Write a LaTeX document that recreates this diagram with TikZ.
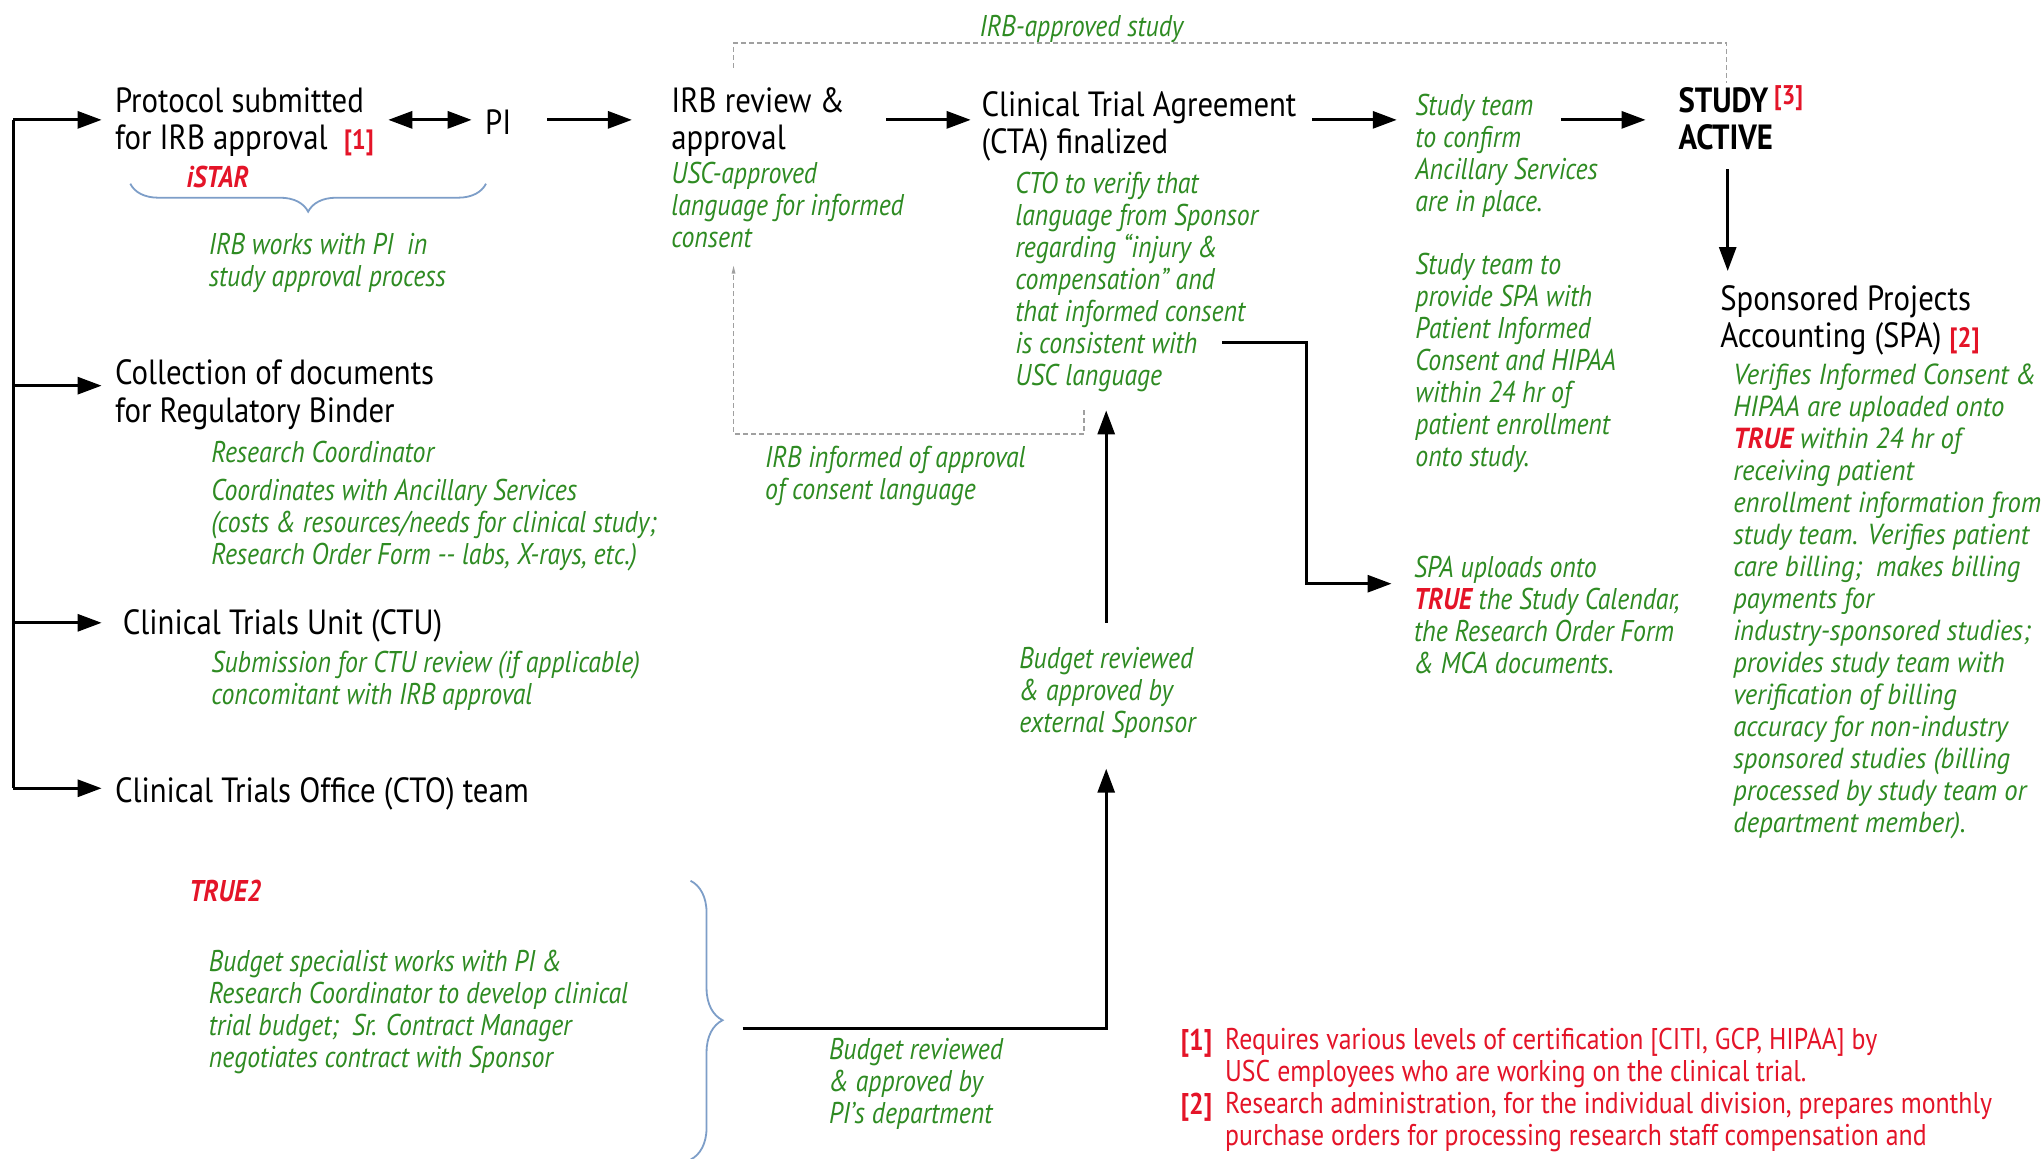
\documentclass[tikz,border=0pt]{standalone}
\usepackage{fontspec}
\setmainfont{PT Sans}
\newfontfamily\cf{PT Sans}[FakeStretch=0.88]
\newfontfamily\cg{PT Sans}[FakeStretch=0.86]
\newfontfamily\cfw{PT Sans}[FakeStretch=0.92]
\usetikzlibrary{arrows.meta,decorations.pathreplacing,calc}
\definecolor{tgreen}{RGB}{46,139,34}
\definecolor{tred}{RGB}{228,20,40}
\definecolor{tblue}{RGB}{125,158,200}
\definecolor{tgray}{RGB}{160,160,160}
\newcommand\blkf{\cf\fontsize{17.5}{18.9}\selectfont}
\newcommand\grnf{\cg\itshape\fontsize{15}{16}\selectfont}
\newcommand\spaf{\cfw\itshape\fontsize{14.5}{16}\selectfont}
\newcommand\notef{\cg\fontsize{15}{16}\selectfont}
\newcommand\rb[1]{\textcolor{tred}{\bfseries #1}}
\tikzset{
  blk/.style={font=\blkf, align=left, inner sep=0pt, anchor=base west, yshift=-2pt},
  grn/.style={font=\grnf, text=tgreen, align=left, inner sep=0pt, anchor=base west, yshift=-2pt},
  spag/.style={font=\spaf, text=tgreen, align=left, inner sep=0pt, anchor=base west, yshift=-2pt},
  note/.style={font=\notef, text=tred, align=left, inner sep=0pt, anchor=base west, yshift=-1.5pt},
  arr/.style={line width=1.5pt, -{Triangle[length=12pt,width=8.5pt]}},
  plain/.style={line width=1.5pt},
  dsh/.style={tgray, line width=0.7pt, dash pattern=on 2.5pt off 1.5pt},
  bracestyle/.style={tblue, line width=0.9pt, decorate},
}
\begin{document}
\begin{tikzpicture}[x=0.6515pt,y=-0.6515pt]
\clip (0,0) rectangle (1568,889);
\fill[white] (0,0) rectangle (1568,889);

% black headings (anchor = baseline of last line)
\node[blk] (proto) at (88,112) {Protocol submitted\\for IRB approval\ \ \rb{\fontsize{14}{16}\selectfont[1]}};
\node[blk] (pi) at (372,100) {PI};
\node[blk] (irbt) at (515,112) {IRB review \&\\approval};
\node[blk] (ctat) at (753,115) {Clinical Trial Agreement\\(CTA) finalized};
\node[blk, font=\blkf\bfseries] (study) at (1288,112) {STUDY\,\raisebox{0.45ex}{\textcolor{tred}{\fontsize{13.5}{14}\selectfont[3]}}\\ACTIVE};
\node[blk] (spat) at (1320,264) {Sponsored Projects\\Accounting (SPA) \rb{\fontsize{14}{16}\selectfont[2]}};
\node[blk] (coll) at (88,321) {Collection of documents\\for Regulatory Binder};
\node[blk] (ctu) at (94,484) {Clinical Trials Unit (CTU)};
\node[blk] (cto) at (88,613) {Clinical Trials Office (CTO) team};

% green notes
\node[grn, text=tred, font=\grnf\bfseries] (istar) at (143,141) {iSTAR};
\node[grn] (irbw) at (160,217) {IRB works with PI\ \ in\\study approval process};
\node[grn] (uscg) at (515,187) {USC-approved\\language for informed\\consent};
\node[grn] (ctog) at (779,293) {CTO to verify that\\language from Sponsor\\regarding “injury \&\\compensation” and\\that informed consent\\is consistent with\\USC language};
\node[grn] (confirm) at (1086,159) {Study team\\to confirm\\Ancillary Services\\are in place.};
\node[grn] (provide) at (1086,355) {Study team to\\provide SPA with\\Patient Informed\\Consent and HIPAA\\within 24 hr of\\patient enrollment\\onto study.};
\node[spag] (spag) at (1330,636) {Verifies Informed Consent \&\\HIPAA are uploaded onto\\\rb{TRUE} within 24 hr of\\receiving patient\\enrollment information from\\study team. Verifies patient\\care billing;\ \ makes billing\\payments for\\industry-sponsored studies;\\provides study team with\\verification of billing\\accuracy for non-industry\\sponsored studies (billing\\processed by study team or\\department member).};
\node[grn] (upl) at (1085,514) {SPA uploads onto\\\rb{TRUE} the Study Calendar,\\the Research Order Form\\\& MCA documents.};
\node[grn] (rc) at (162,352) {Research Coordinator};
\node[grn] (coord) at (162,430) {Coordinates with Ancillary Services\\(costs \& resources/needs for clinical study;\\Research Order Form -- labs, X-rays, etc.)};
\node[grn] (ctug) at (162,538) {Submission for CTU review (if applicable)\\concomitant with IRB approval};
\node[grn] (irbinf) at (587,380) {IRB informed of approval\\of consent language};
\node[grn] (ext) at (782,559) {Budget reviewed\\\& approved by\\external Sponsor};
\node[grn] (pid) at (636,859) {Budget reviewed\\\& approved by\\PI’s department};
\node[grn, text=tred, font=\grnf\bfseries] (true2) at (145,689) {TRUE2};
\node[grn] (budg) at (160,816) {Budget specialist works with PI \&\\Research Coordinator to develop clinical\\trial budget;\ \ Sr. Contract Manager\\negotiates contract with Sponsor};
\node[grn, anchor=base] (irbap) at (830,25) {IRB-approved study};

% footnotes
\node[note, font=\notef\bfseries] (f1) at (906,804) {[1]};
\node[note] (f1t) at (940,828) {Requires various levels of certification [CITI, GCP, HIPAA] by\\USC employees who are working on the clinical trial.};
\node[note, font=\notef\bfseries] (f2) at (906,853) {[2]};
\node[note] (f2t) at (940,877) {Research administration, for the individual division, prepares monthly\\purchase orders for processing research staff compensation and};

% left spine
\coordinate (sptop) at (10,92);
\coordinate (spbot) at (10,605);
\draw[plain] (sptop) -- (spbot);
\draw[arr] (sptop) -- (78,92);
\draw[arr] (10,296) -- (78,296);
\draw[arr] (10,478) -- (78,478);
\draw[arr] (spbot) -- (78,605);

% main flow
\draw[line width=1.5pt, {Triangle[length=12pt,width=8.5pt]}-{Triangle[length=12pt,width=8.5pt]}] (298,92) -- (362,92);
\draw[arr] (420,92) -- (485,92);
\draw[arr] (680,92) -- (745,92);
\draw[arr] (1007,92) -- (1072,92);
\draw[arr] (1198,92) -- (1263,92);
\draw[arr] (1326,130) -- (1326,208);

% CTO -> SPA uploads
\coordinate (k1) at (938,263);
\draw[arr] (k1) -- (1003,263) -- (1003,448) -- (1068,448);

% budget arrows
\draw[arr] (849,478) -- (849,315);
\coordinate (bstart) at (570,789);
\draw[arr] (bstart) -- (849,789) -- (849,590);

% dashed feedback lines
\draw[dsh] (563,52) -- (563,33) -- (1325,33) -- (1325,64);
\draw[dsh] (832,315) -- (832,333) -- (563,333) -- (563,208);
\fill[tgray] (563,204) -- (561.5,210) -- (564.5,210) -- cycle;

% braces
\draw[bracestyle, decoration={brace, amplitude=14pt, mirror}] (100,141) -- (373,141);
\draw[bracestyle, decoration={brace, amplitude=16pt}] (530,676) -- (530,890);
\end{tikzpicture}
\end{document}
